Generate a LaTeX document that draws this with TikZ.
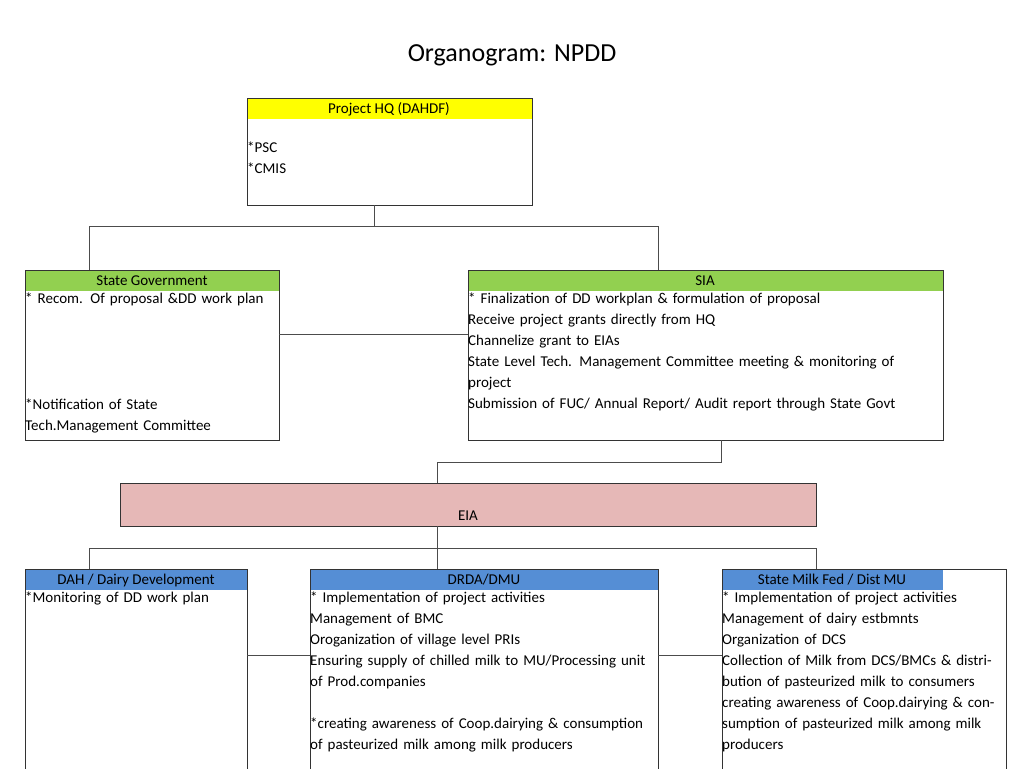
\documentclass[tikz,border=0pt]{standalone}
\usepackage{fontspec}
\setmainfont{Carlito}
\usetikzlibrary{positioning}
\definecolor{hqyellow}{RGB}{255,255,0}
\definecolor{stgreen}{RGB}{146,208,80}
\definecolor{eiapink}{RGB}{230,184,183}
\definecolor{unitblue}{RGB}{85,142,213}
\tikzset{
  box/.style={draw=black!80, thin},
  head/.style={inner sep=0pt, font=\fontsize{15}{21}\selectfont},
  body/.style={anchor=north west, inner sep=1pt, align=left, font=\fontsize{15}{21}\selectfont},
  link/.style={draw=black!70, thin}
}
\begin{document}
\begin{tikzpicture}[x=1pt, y=-1pt]
    \useasboundingbox (0,0) rectangle (1024,768);
    \clip (0,0) rectangle (1024,768);
    \node[font=\fontsize{26}{30}\selectfont] (title) at (512,55) {Organogram: NPDD};

    % Project HQ
    \draw[box] (247,98) rectangle (532,205);
    \fill[hqyellow] (247.5,98.5) rectangle (531.5,119);
    \node[head] (hq) at (389,109) {Project HQ (DAHDF)};
    \node[body] (hqtxt) at (246,141) {*PSC\\*CMIS};
    \coordinate (hqb) at (374,205);

    % State Government and SIA
    \draw[box] (25,270) rectangle (279,440);
    \fill[stgreen] (25.5,270.5) rectangle (278.5,291);
    \node[head] (sg) at (152,281) {State Government};
    \node[body, text width=250pt] (sgtxt) at (24,292) {* Recom. Of proposal \&DD work plan};
    \node[body, text width=250pt] (sgtxt2) at (24,398) {*Notification of State Tech.Management Committee};

    \draw[box] (468,270) rectangle (943,440);
    \fill[stgreen] (468.5,270.5) rectangle (942.5,291);
    \node[head] (sia) at (705,281) {SIA};
    \node[body, text width=470pt] (siatxt) at (467,292) {* Finalization of DD workplan \& formulation of proposal\\
      * Receive project grants directly from HQ\\
      *Channelize grant to EIAs\\
      *State Level Tech. Management Committee meeting \& monitoring of project\\
      * Submission of FUC/ Annual Report/ Audit report through State Govt};

    % EIA
    \draw[box, fill=eiapink] (120,483) rectangle (816,526);
    \node[head] (eia) at (468,516) {EIA};

    % units
    \draw[box] (25,569) rectangle (247,790);
    \fill[unitblue] (25.5,569.5) rectangle (246.5,590);
    \node[head] (dah) at (136,580) {DAH / Dairy Development};
    \node[body, text width=220pt] (dahtxt) at (24,591) {*Monitoring of DD work plan};

    \draw[box] (310,569) rectangle (658,790);
    \fill[unitblue] (310.5,569.5) rectangle (657.5,590);
    \node[head] (drda) at (484,580) {DRDA/DMU};
    \node[body, text width=344pt] (drdatxt) at (309,591) {* Implementation of project activities\\
      *Management of BMC\\
      * Oroganization of village level PRIs\\
      * Ensuring supply of chilled milk to MU/Processing unit of Prod.companies\\[21pt]
      *creating awareness of Coop.dairying \& consumption of pasteurized milk among milk producers};

    \draw[box] (722,569) rectangle (1006,790);
    \fill[unitblue] (722.5,569.5) rectangle (943,590);
    \node[head] (smf) at (832,580) {State Milk Fed / Dist MU};
    \node[body, text width=282pt] (smftxt) at (721,591) {* Implementation of project activities\\
      *Management of dairy estbmnts\\
      *Organization of DCS\\
      *Collection of Milk from DCS/BMCs \& distribution of pasteurized milk to consumers\\
      *creating awareness of Coop.dairying \& consumption of pasteurized milk among milk producers};

    % connectors
    \coordinate (sgt) at (89,270);
    \coordinate (siat) at (658,270);
    \draw[link] (hqb) -- (374,226) -| (sgt);
    \draw[link] (374,226) -| (siat);
    \draw[link] (279,334) -- (468,334);
    \coordinate (siab) at (721,440);
    \coordinate (eiat) at (437,483);
    \draw[link] (siab) -- (721,462) -| (eiat);
    \coordinate (eiab) at (437,526);
    \coordinate (daht) at (89,569);
    \coordinate (drdat) at (437,569);
    \coordinate (smft) at (816,569);
    \draw[link] (eiab) -- (drdat);
    \draw[link] (437,548) -| (daht);
    \draw[link] (437,548) -| (smft);
    \draw[link] (247,655) -- (310,655);
    \draw[link] (658,655) -- (722,655);
\end{tikzpicture}
\end{document}
